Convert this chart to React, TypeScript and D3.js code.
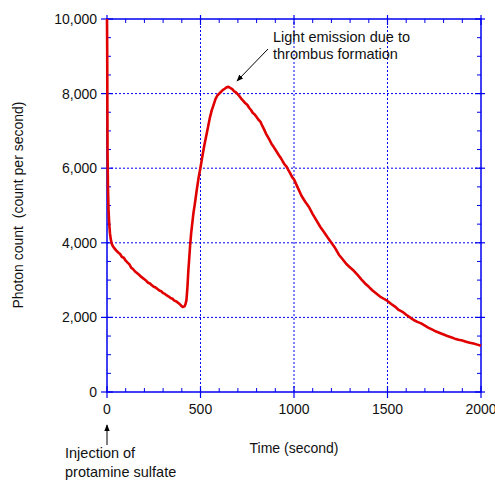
import React from "react";
import * as d3 from "d3";

const times = [0, 1, 2, 3, 5, 8, 12, 16, 20, 25, 30, 40, 50, 60, 70, 80, 90, 100, 110, 120, 130, 140, 150, 160, 170, 180, 190, 200, 210, 220, 230, 240, 250, 260, 270, 280, 290, 300, 310, 320, 330, 340, 350, 360, 370, 380, 390, 400, 405, 410, 415, 420, 425, 430, 435, 440, 444, 450, 462, 470, 480, 490, 500, 510, 520, 530, 540, 550, 560, 570, 580, 590, 600, 610, 620, 630, 640, 650, 660, 670, 680, 690, 700, 710, 720, 730, 740, 750, 760, 770, 780, 790, 800, 810, 820, 830, 840, 850, 860, 870, 880, 890, 900, 910, 920, 930, 940, 950, 960, 970, 980, 990, 1000, 1020, 1040, 1060, 1080, 1100, 1120, 1140, 1160, 1180, 1200, 1220, 1240, 1260, 1280, 1300, 1320, 1340, 1360, 1380, 1400, 1420, 1440, 1460, 1480, 1500, 1520, 1540, 1560, 1580, 1600, 1620, 1640, 1660, 1680, 1700, 1720, 1740, 1760, 1780, 1800, 1820, 1840, 1860, 1880, 1900, 1920, 1940, 1960, 1980, 2000];
const counts = [10000, 9200, 7600, 6400, 5500, 4900, 4500, 4250, 4100, 3980, 3920, 3850, 3790, 3740, 3700, 3620, 3600, 3520, 3470, 3420, 3330, 3290, 3230, 3190, 3150, 3100, 3060, 3020, 2980, 2930, 2910, 2860, 2820, 2800, 2760, 2720, 2700, 2650, 2630, 2590, 2560, 2520, 2500, 2450, 2430, 2390, 2350, 2300, 2280, 2290, 2300, 2360, 2470, 2800, 3250, 3600, 3900, 4250, 4790, 5050, 5420, 5750, 6020, 6320, 6600, 6850, 7100, 7350, 7550, 7700, 7850, 7950, 8000, 8050, 8100, 8130, 8170, 8180, 8150, 8120, 8060, 8030, 7980, 7920, 7850, 7800, 7740, 7700, 7620, 7560, 7480, 7440, 7370, 7300, 7250, 7140, 7040, 6930, 6840, 6750, 6650, 6580, 6500, 6420, 6340, 6270, 6180, 6100, 6040, 5950, 5860, 5760, 5700, 5480, 5260, 5100, 4960, 4770, 4600, 4430, 4290, 4140, 4000, 3860, 3680, 3560, 3430, 3340, 3250, 3140, 3020, 2910, 2820, 2720, 2640, 2560, 2500, 2440, 2360, 2290, 2200, 2150, 2070, 2000, 1930, 1880, 1840, 1780, 1720, 1670, 1620, 1580, 1540, 1500, 1470, 1430, 1400, 1380, 1350, 1320, 1300, 1270, 1240];

const xMajor = [0, 500, 1000, 1500, 2000];
const yMajor = [0, 2000, 4000, 6000, 8000, 10000];
const xTickLabels = ["0", "500", "1000", "1500", "2000"];
const yTickLabels = ["0", "2,000", "4,000", "6,000", "8,000", "10,000"];

const BLUE = "#0000f0";
const RED = "#e00000";
const FONT = "'Liberation Sans', Arial, sans-serif";

export default function App() {
  const x = d3.scaleLinear().domain([0, 2000]).range([107, 481]);
  const y = d3.scaleLinear().domain([0, 10000]).range([392, 19]);
  const data = times.map((t, i) => [t, counts[i]] as [number, number]);
  const line = d3
    .line<[number, number]>()
    .x((d) => x(d[0]))
    .y((d) => y(d[1]));
  const xMinor = d3.range(0, 2001, 100).filter((v) => v % 500 !== 0);
  const yMinor = d3.range(0, 10001, 500).filter((v) => v % 2000 !== 0);
  const [x0, x1] = x.range();
  const [y0, y1] = y.range();

  return (
    <svg
      width={495}
      height={480}
      style={{ position: "absolute", left: 0, top: 0, background: "#fff" }}
      fontFamily={FONT}
    >
      <defs>
        <marker id="ah" viewBox="0 0 10 10" refX="9" refY="5" markerWidth="7" markerHeight="7" orient="auto">
          <path d="M0,1 L10,5 L0,9 z" fill="#000" />
        </marker>
      </defs>
      {xMajor.slice(1, -1).map((v) => (
        <line key={"gx" + v} x1={x(v)} x2={x(v)} y1={y0} y2={y1} stroke={BLUE} strokeWidth={1} strokeDasharray="2,2" />
      ))}
      {yMajor.slice(1, -1).map((v) => (
        <line key={"gy" + v} x1={x0} x2={x1} y1={y(v)} y2={y(v)} stroke={BLUE} strokeWidth={1} strokeDasharray="2,2" />
      ))}
      <rect x={x0} y={y1} width={x1 - x0} height={y0 - y1} fill="none" stroke={BLUE} strokeWidth={1.5} />
      {xMinor.map((v) => (
        <g key={"mx" + v}>
          <line x1={x(v)} x2={x(v)} y1={y0} y2={y0 - 4} stroke={BLUE} strokeWidth={1} />
          <line x1={x(v)} x2={x(v)} y1={y1} y2={y1 + 4} stroke={BLUE} strokeWidth={1} />
        </g>
      ))}
      {yMinor.map((v) => (
        <g key={"my" + v}>
          <line x1={x0} x2={x0 + 4} y1={y(v)} y2={y(v)} stroke={BLUE} strokeWidth={1} />
          <line x1={x1} x2={x1 - 4} y1={y(v)} y2={y(v)} stroke={BLUE} strokeWidth={1} />
        </g>
      ))}
      {xMajor.map((v) => (
        <g key={"Mx" + v}>
          <line x1={x(v)} x2={x(v)} y1={y0 + 6} y2={y0 - 6} stroke={BLUE} strokeWidth={1.2} />
          <line x1={x(v)} x2={x(v)} y1={y1 - 4} y2={y1 + 6} stroke={BLUE} strokeWidth={1.2} />
        </g>
      ))}
      {yMajor.map((v) => (
        <g key={"My" + v}>
          <line x1={x0 - 6} x2={x0 + 6} y1={y(v)} y2={y(v)} stroke={BLUE} strokeWidth={1.2} />
          <line x1={x1 - 6} x2={x1 + 4} y1={y(v)} y2={y(v)} stroke={BLUE} strokeWidth={1.2} />
        </g>
      ))}
      {xMajor.map((v, i) => (
        <text key={"lx" + v} x={x(v)} y={414} textAnchor="middle" fontSize={14} fill="#111">
          {xTickLabels[i]}
        </text>
      ))}
      {yMajor.map((v, i) => (
        <text key={"ly" + v} x={97} y={y(v) + 5} textAnchor="end" fontSize={14} fill="#111">
          {yTickLabels[i]}
        </text>
      ))}
      <text x={294} y={453} textAnchor="middle" fontSize={14} fill="#111">
        Time (second)
      </text>
      <text transform="translate(23,205) rotate(-90)" textAnchor="middle" fontSize={14} fill="#111" xmlSpace="preserve">
        Photon count  (count per second)
      </text>
      <path d={line(data) || ""} fill="none" stroke={RED} strokeWidth={2.6} strokeLinejoin="round" />
      <text x={273} y={42} fontSize={14.5} fill="#111">Light emission due to</text>
      <text x={273} y={59} fontSize={14.5} fill="#111">thrombus formation</text>
      <line x1={268} y1={49} x2={237} y2={81} stroke="#000" strokeWidth={1} markerEnd="url(#ah)" />
      <line x1={107} y1={445} x2={107} y2={425} stroke="#000" strokeWidth={1} markerEnd="url(#ah)" />
      <text x={65} y={458} fontSize={14.5} fill="#111">Injection of</text>
      <text x={65} y={477} fontSize={14.5} fill="#111">protamine sulfate</text>
    </svg>
  );
}
